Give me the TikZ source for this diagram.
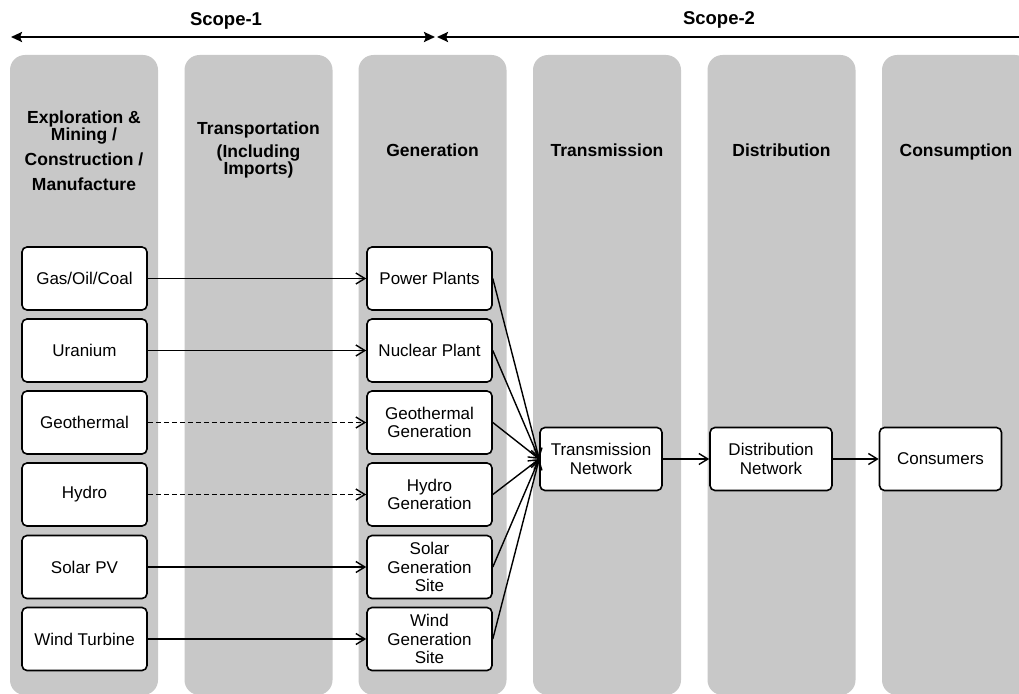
\documentclass[tikz,border=0pt]{standalone}
\usepackage{fontspec}
\setmainfont{Liberation Sans}
\usetikzlibrary{arrows.meta}
\definecolor{lanegray}{RGB}{200,200,200}
\begin{document}
\begin{tikzpicture}[x=1pt,y=-1pt,
  lane/.style={fill=lanegray, draw=none, rounded corners=15pt, minimum width=148pt, minimum height=640pt, inner sep=0pt},
  box/.style={draw, line width=1.6pt, fill=white, rounded corners=5pt, minimum width=125pt, minimum height=63pt, align=center, inner sep=0pt, font=\fontsize{17}{18.5}\selectfont},
  head/.style={align=center, font=\bfseries\fontsize{17.5}{17}\selectfont},
  scopelbl/.style={font=\bfseries\fontsize{18.5}{18}\selectfont},
  scopearrow/.style={line width=2.3pt},
  sarrow/.tip={Stealth[length=11pt,width=10pt,inset=2pt]},
  conn/.style={line width=1.4pt, -{Straight Barb[length=9pt,width=11pt,line width=1.4pt]}},
  dconn/.style={conn, dashed, dash pattern=on 5pt off 3pt},
]
\useasboundingbox (0,0) rectangle (1019,693);
\clip (0,0) rectangle (1019,693);
\fill[white] (0,0) rectangle (1019,693);

% lanes
\node[lane] (lane1) at (84,375) {};
\node[lane] (lane2) at (258.5,375) {};
\node[lane] (lane3) at (432.5,375) {};
\node[lane] (lane4) at (607,375) {};
\node[lane] (lane5) at (781.5,375) {};
\node[lane] (lane6) at (956,375) {};

% scope arrows
\coordinate (s1a) at (11,37);
\coordinate (s1b) at (435,37);
\coordinate (s2a) at (437,37);
\coordinate (s2b) at (1030,37);
\draw[scopearrow, sarrow-sarrow] (s1a) -- (s1b);
\draw[scopearrow, sarrow-] (s2a) -- (s2b);
\node[scopelbl] (sc1) at (226,21) {Scope-1};
\node[scopelbl] (sc2) at (719,20) {Scope-2};

% headers
\node[head] (h1) at (84,151) {Exploration \&\\Mining /\\[8pt]Construction /\\[8pt]Manufacture};
\node[head] (h2) at (258.5,150) {Transportation\\[6pt](Including\\Imports)};
\node[head] (h3) at (432.5,150) {Generation};
\node[head] (h4) at (607,150) {Transmission};
\node[head] (h5) at (781.5,150) {Distribution};
\node[head] (h6) at (956,152) {Consumption};

% source boxes
\node[box] (a1) at (84.5,278.5) {Gas/Oil/Coal};
\node[box] (a2) at (84.5,350.5) {Uranium};
\node[box] (a3) at (84.5,422.5) {Geothermal};
\node[box] (a4) at (84.5,494.5) {Hydro};
\node[box] (a5) at (84.5,567) {Solar PV};
\node[box] (a6) at (84.5,639) {Wind Turbine};

% generation boxes
\node[box] (g1) at (429.5,278.5) {Power Plants};
\node[box] (g2) at (429.5,350.5) {Nuclear Plant};
\node[box] (g3) at (429.5,422.5) {Geothermal\\Generation};
\node[box] (g4) at (429.5,494.5) {Hydro\\Generation};
\node[box] (g5) at (429.5,567) {Solar\\Generation\\Site};
\node[box] (g6) at (429.5,639) {Wind\\Generation\\Site};

% network boxes
\node[box, minimum width=122pt] (tn) at (601,459) {Transmission\\Network};
\node[box, minimum width=122pt] (dn) at (771,459) {Distribution\\Network};
\node[box, minimum width=122pt] (cn) at (940.5,459) {Consumers};

% connectors
\draw[conn] (a1) -- (g1);
\draw[conn] (a2) -- (g2);
\draw[dconn] (a3) -- (g3);
\draw[dconn] (a4) -- (g4);
\draw[conn] (a5) -- (g5);
\draw[conn] (a6) -- (g6);
\foreach \g in {g1,g2,g3,g4,g5,g6}
  \draw[conn] (\g.east) -- (tn.west);
\draw[conn] (tn) -- (dn);
\draw[conn] (dn) -- (cn);
\end{tikzpicture}
\end{document}
